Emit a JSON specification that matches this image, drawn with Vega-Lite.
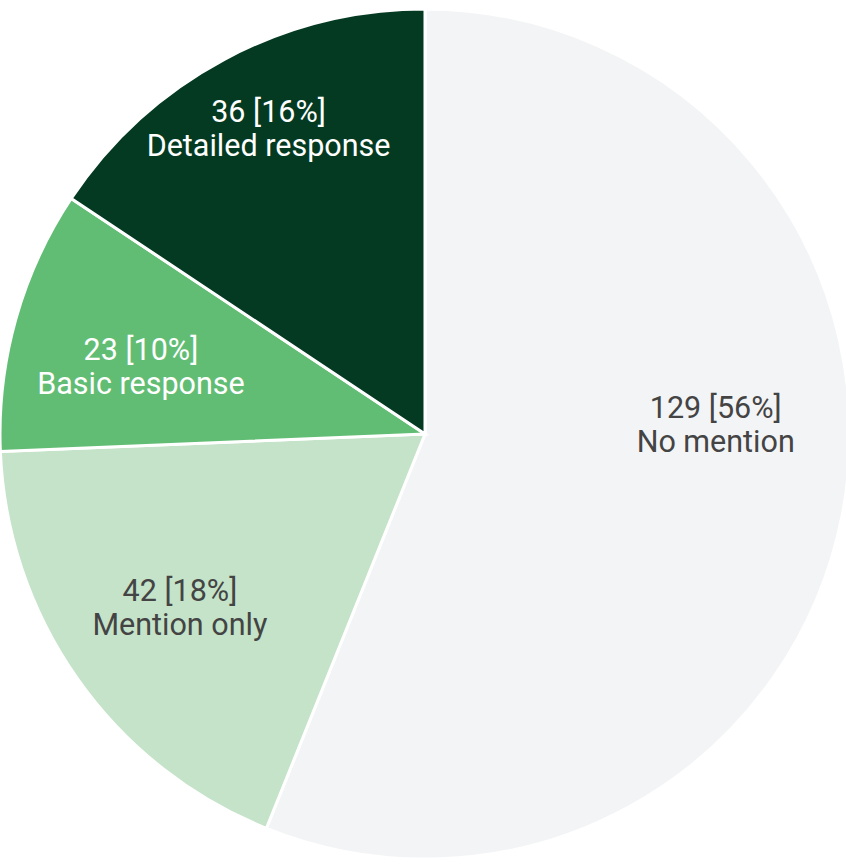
{
  "$schema": "https://vega.github.io/schema/vega-lite/v6.json",
  "width": 850,
  "height": 868,
  "padding": 0,
  "autosize": "none",
  "background": "white",
  "view": {"stroke": null},
  "data": {"values": [
    {"category": "No mention", "count": 129, "label": "129 [56%]\nNo mention", "idx": 1},
    {"category": "Mention only", "count": 42, "label": "42 [18%]\nMention only", "idx": 2},
    {"category": "Basic response", "count": 23, "label": "23 [10%]\nBasic response", "idx": 3},
    {"category": "Detailed response", "count": 36, "label": "36 [16%]\nDetailed response", "idx": 4}
  ]},
  "encoding": {
    "theta": {"field": "count", "type": "quantitative", "stack": true},
    "order": {"field": "idx", "type": "quantitative"}
  },
  "layer": [
    {
      "mark": {"type": "arc", "outerRadius": 425, "stroke": "white", "strokeWidth": 3},
      "encoding": {
        "color": {
          "field": "category", "type": "nominal",
          "scale": {"domain": ["No mention", "Mention only", "Basic response", "Detailed response"],
                    "range": ["#f3f4f6", "#c4e3c8", "#62bd74", "#043a22"]},
          "legend": null
        }
      }
    },
    {
      "mark": {"type": "text", "font": "Roboto", "fontSize": 30.5, "lineHeight": 34, "lineBreak": "\n", "radius": 291, "dx": 5, "dy": -80, "color": "#444444"},
      "encoding": {
        "text": {"condition": {"test": "datum.category === 'No mention'", "field": "label"}, "value": ""}
      }
    },
    {
      "mark": {"type": "text", "font": "Roboto", "fontSize": 30.5, "lineHeight": 34, "lineBreak": "\n", "radius": 300, "dx": 0, "dy": -15, "color": "#444444"},
      "encoding": {
        "text": {"condition": {"test": "datum.category === 'Mention only'", "field": "label"}, "value": ""}
      }
    },
    {
      "mark": {"type": "text", "font": "Roboto", "fontSize": 30.5, "lineHeight": 34, "lineBreak": "\n", "radius": 295, "dx": 0, "dy": -3, "color": "white"},
      "encoding": {
        "text": {"condition": {"test": "datum.category === 'Basic response'", "field": "label"}, "value": ""}
      }
    },
    {
      "mark": {"type": "text", "font": "Roboto", "fontSize": 30.5, "lineHeight": 34, "lineBreak": "\n", "radius": 342, "dx": 5, "dy": -20, "color": "white"},
      "encoding": {
        "text": {"condition": {"test": "datum.category === 'Detailed response'", "field": "label"}, "value": ""}
      }
    }
  ]
}
